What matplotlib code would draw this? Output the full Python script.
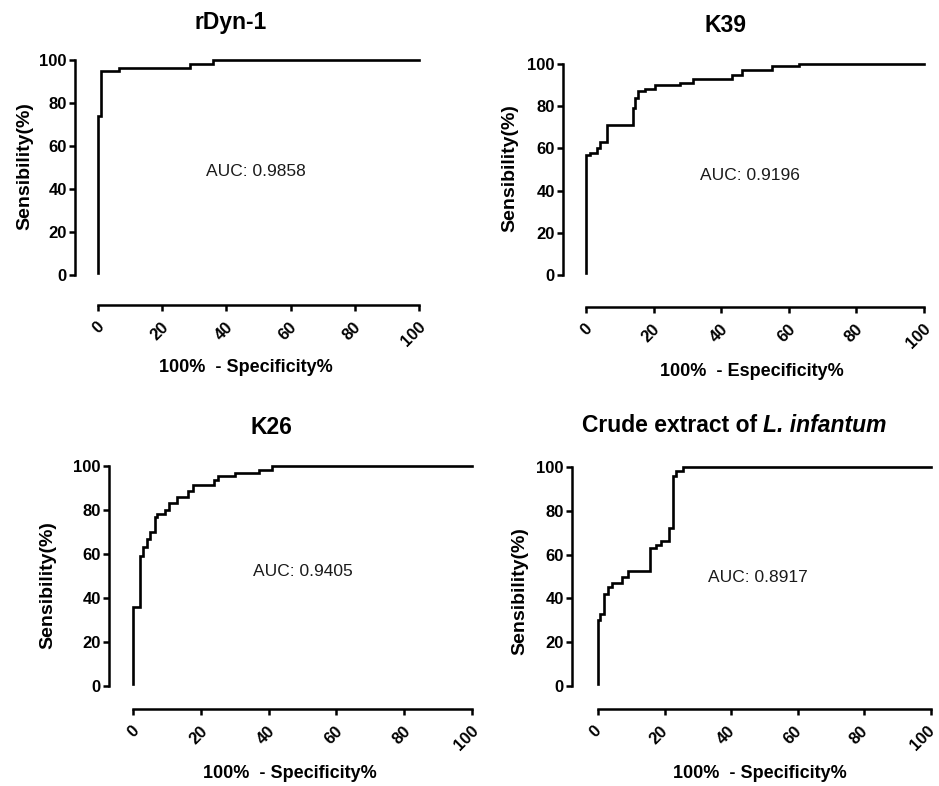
import matplotlib
matplotlib.use("Agg")
import matplotlib.pyplot as plt
from matplotlib.transforms import ScaledTranslation

plt.rcParams['font.family'] = ['Liberation Sans', 'DejaVu Sans']

W, H = 939, 786

# ---- data ----
rdyn_fpr = [0, 0, 0.8, 6.4, 28.8, 35.8, 100]
rdyn_tpr = [1, 74, 95, 96.5, 98, 100, 100]

k39_fpr = [0, 0, 1.2, 3.2, 4.2, 6.3, 14.0, 14.5, 15.5, 17.5, 20.5, 27.9, 31.8, 43.2, 46.1, 55.0, 62.9, 100]
k39_tpr = [1, 57, 58, 60, 63, 71, 79, 84, 87, 88, 90, 91, 93, 95, 97, 99, 100, 100]

k26_fpr = [0, 0, 2.2, 3.0, 4.2, 5.1, 6.4, 7.1, 9.4, 10.7, 12.9, 16.3, 17.6, 24.0, 25.2, 30.2, 37.1, 41.1, 100]
k26_tpr = [1, 36, 59, 63, 67, 70, 77, 78, 80, 83, 86, 88.5, 91.5, 93.5, 95.3, 96.8, 98.3, 100, 100]

crude_fpr = [0, 0, 0.5, 1.8, 3.0, 4.3, 7.2, 9.0, 15.7, 17.4, 18.9, 21.2, 22.4, 23.4, 25.4, 100]
crude_tpr = [1, 30, 33, 42, 45, 47, 50, 52.7, 63, 64.6, 66, 72, 96, 98, 100, 100]

auc_labels = ["AUC: 0.9858", "AUC: 0.9196", "AUC: 0.9405", "AUC: 0.8917"]
xlabels = ["100%  - Specificity%", "100%  - Especificity%",
           "100%  - Specificity%", "100%  - Specificity%"]
ylabel = "Sensibility(%)"
titles = ["rDyn-1", "K39", "K26", None]
ticks = [0, 20, 40, 60, 80, 100]

fig = plt.figure(figsize=(W / 100, H / 100), dpi=100)


def px(x, y):
    return x / W, 1 - y / H


def make_axes(left, right, top, bottom, out_left, out_bottom, shift_px):
    ax = fig.add_axes([left / W, 1 - bottom / H, (right - left) / W, (bottom - top) / H])
    ax.set_xlim(0, 100)
    ax.set_ylim(0, 100)
    for s in ['top', 'right']:
        ax.spines[s].set_visible(False)
    ax.spines['left'].set_position(('outward', out_left * 0.72))
    ax.spines['bottom'].set_position(('outward', out_bottom * 0.72))
    ax.spines['left'].set_bounds(0, 100)
    ax.spines['bottom'].set_bounds(0, 100)
    for s in ['left', 'bottom']:
        ax.spines[s].set_linewidth(1.8)
    ax.set_xticks(ticks)
    ax.set_yticks(ticks)
    ax.tick_params(axis='both', width=1.8, length=4)
    ax.tick_params(axis='y', labelsize=12, pad=2)
    for lab in ax.get_yticklabels():
        lab.set_fontweight('bold')
    ax.set_xticklabels([str(t) for t in ticks], rotation=45, ha='right', va='center',
                       rotation_mode='anchor', fontweight='bold', fontsize=12)
    ax.tick_params(axis='x', pad=10)
    shift = ScaledTranslation(shift_px / 100, 0, fig.dpi_scale_trans)
    for lab in ax.get_xticklabels():
        lab.set_transform(lab.get_transform() + shift)
    ax.patch.set_alpha(0)
    return ax


panels = [
    dict(box=(98, 419, 60, 275, 23, 30, 4), fpr=rdyn_fpr, tpr=rdyn_tpr,
         auc=(256, 172), xl=(246, 368), yl=(25, 166), title=(231, 23)),
    dict(box=(586, 924, 64, 275, 23, 32, 4), fpr=k39_fpr, tpr=k39_tpr,
         auc=(750, 175), xl=(752, 372), yl=(510, 168), title=(725, 25)),
    dict(box=(133, 472, 466, 686, 24, 23, 4), fpr=k26_fpr, tpr=k26_tpr,
         auc=(303, 572), xl=(290, 773), yl=(48, 585), title=(271, 428)),
    dict(box=(598, 931, 467, 686, 26, 23, 1), fpr=crude_fpr, tpr=crude_tpr,
         auc=(758, 577), xl=(760, 773), yl=(520, 591), title=None),
]

for i, p in enumerate(panels):
    ax = make_axes(*p['box'])
    ax.plot(p['fpr'], p['tpr'], drawstyle='steps-post', color='black',
            linewidth=1.9, clip_on=False, solid_joinstyle='miter')
    fig.text(*px(*p['auc']), auc_labels[i], ha='center', va='center',
             fontsize=12.5, color='#1a1a1a')
    fig.text(*px(*p['xl']), xlabels[i], ha='center', va='center',
             fontsize=13, fontweight='bold')
    fig.text(*px(*p['yl']), ylabel, ha='center', va='center', rotation=90,
             fontsize=14, fontweight='bold')
    if titles[i]:
        fig.text(*px(*p['title']), titles[i], ha='center', va='center',
                 fontsize=16.5, fontweight='bold')

# mixed-style title for panel 4
renderer = fig.canvas.get_renderer()
t1 = fig.text(0, 0, "Crude extract of ", fontsize=16.5, fontweight='bold', va='center')
t2 = fig.text(0, 0, "L. infantum", fontsize=16.5, fontweight='bold', style='italic', va='center')
w1 = t1.get_window_extent(renderer).width
w2 = t2.get_window_extent(renderer).width
cx, cy = 734, 426
x0 = cx - (w1 + w2) / 2
t1.set_position(px(x0, cy))
t2.set_position(px(x0 + w1, cy))

fig.savefig("out.png", dpi=100, facecolor='white')
